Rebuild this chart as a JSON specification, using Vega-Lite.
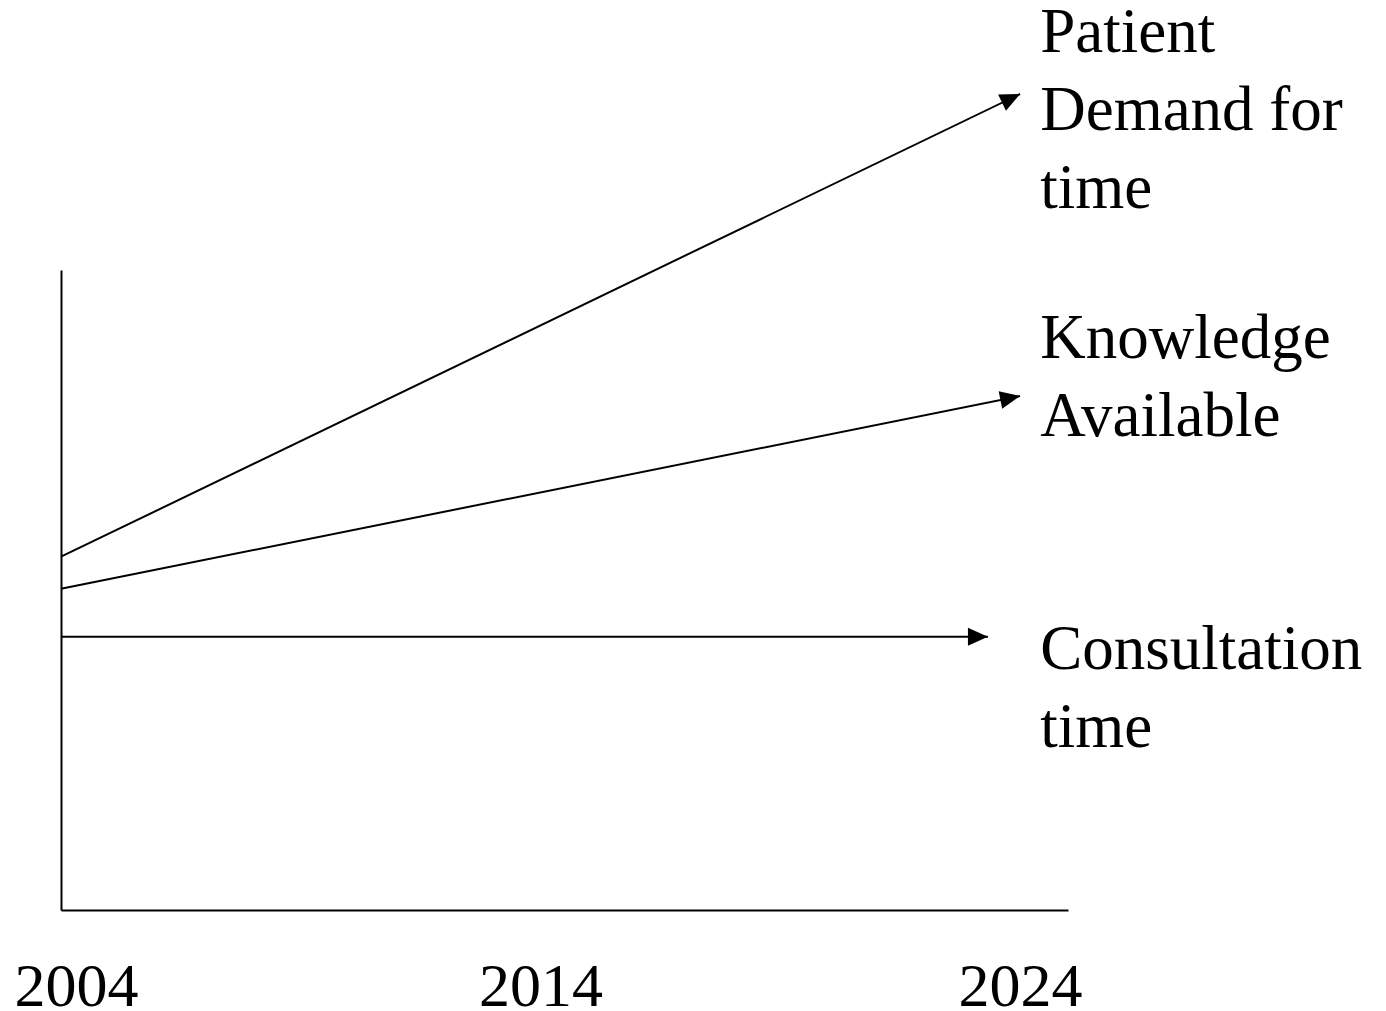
{
  "$schema": "https://vega.github.io/schema/vega-lite/v6.json",
  "autosize": {"type": "none"},
  "padding": {"left": 61, "top": 270, "right": 318, "bottom": 101},
  "width": 1007,
  "height": 640,
  "background": "white",
  "config": {"view": {"stroke": null}},
  "datasets": {
    "lines": [
      {"series": "Patient Demand for time", "year": 2004, "value": 55.2},
      {"series": "Patient Demand for time", "year": 2024, "value": 127.5},
      {"series": "Knowledge Available", "year": 2004, "value": 50.2},
      {"series": "Knowledge Available", "year": 2024, "value": 80.3},
      {"series": "Consultation time", "year": 2004, "value": 42.7},
      {"series": "Consultation time", "year": 2023.33, "value": 42.7}
    ],
    "labels": [
      {"series": "Patient Demand for time", "label": "Patient\nDemand for\ntime", "year": 2024.42, "value": 134.06},
      {"series": "Knowledge Available", "label": "Knowledge\nAvailable", "year": 2024.42, "value": 86.25},
      {"series": "Consultation time", "label": "Consultation\ntime", "year": 2024.42, "value": 37.66}
    ]
  },
  "encoding": {
    "x": {
      "field": "year", "type": "quantitative",
      "scale": {"domain": [2004, 2025], "nice": false, "zero": false},
      "axis": {
        "values": [2004, 2014, 2024], "format": "d", "title": null,
        "domain": true, "domainColor": "black", "domainWidth": 2,
        "ticks": false, "grid": false,
        "labelFont": "Liberation Serif", "labelFontSize": 62, "labelColor": "black",
        "labelBaseline": "alphabetic", "labelPadding": 95,
        "labelFlush": false, "labelOverlap": false, "labelBound": false,
        "labelOffset": {"condition": {"test": "datum.value == 2004", "value": 15}, "value": 0}
      }
    },
    "y": {
      "field": "value", "type": "quantitative",
      "scale": {"domain": [0, 100], "nice": false, "zero": false},
      "axis": {"title": null, "domain": true, "domainColor": "black", "domainWidth": 2, "ticks": false, "labels": false, "grid": false}
    }
  },
  "layer": [
    {
      "data": {"name": "lines"},
      "mark": {"type": "line", "color": "black", "strokeWidth": 2, "clip": false},
      "encoding": {"detail": {"field": "series"}}
    },
    {
      "data": {"name": "lines"},
      "transform": [{"filter": "datum.series == 'Patient Demand for time' && datum.year > 2004"}],
      "mark": {"type": "point", "shape": "M0,0L-1,-0.45L-1,0.45Z", "size": 1600, "filled": true, "color": "black", "opacity": 1, "strokeWidth": 0, "angle": -25.8, "clip": false}
    },
    {
      "data": {"name": "lines"},
      "transform": [{"filter": "datum.series == 'Knowledge Available' && datum.year > 2004"}],
      "mark": {"type": "point", "shape": "M0,0L-1,-0.45L-1,0.45Z", "size": 1600, "filled": true, "color": "black", "opacity": 1, "strokeWidth": 0, "angle": -11.3, "clip": false}
    },
    {
      "data": {"name": "lines"},
      "transform": [{"filter": "datum.series == 'Consultation time' && datum.year > 2004"}],
      "mark": {"type": "point", "shape": "M0,0L-1,-0.45L-1,0.45Z", "size": 1600, "filled": true, "color": "black", "opacity": 1, "strokeWidth": 0, "angle": 0, "clip": false}
    },
    {
      "data": {"name": "labels"},
      "mark": {"type": "text", "align": "left", "baseline": "alphabetic", "font": "Liberation Serif", "fontSize": 63, "lineHeight": 78, "lineBreak": "\n", "color": "black", "clip": false},
      "encoding": {"text": {"field": "label"}}
    }
  ]
}
